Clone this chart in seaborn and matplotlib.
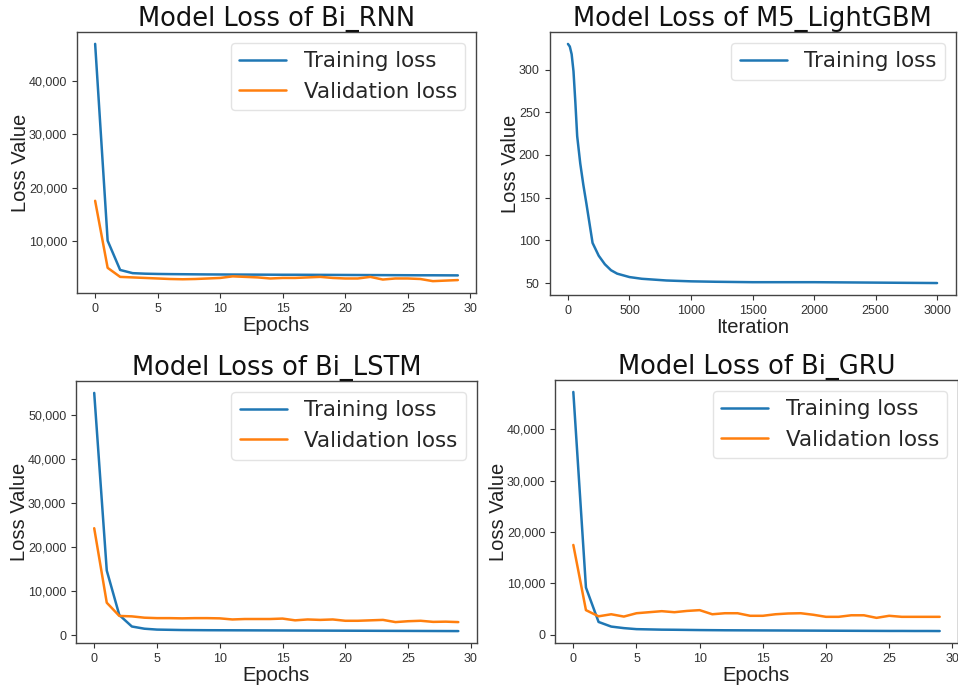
import matplotlib
matplotlib.use("Agg")
import matplotlib.pyplot as plt
from matplotlib.ticker import StrMethodFormatter
import seaborn as sns

# ---------------- data ----------------
epochs = list(range(30))

rnn_train = [47000, 10000, 4500, 3900, 3800, 3750, 3720, 3700, 3680, 3660,
             3650, 3640, 3630, 3620, 3610, 3600, 3600, 3590, 3580, 3570,
             3560, 3550, 3540, 3530, 3520, 3510, 3500, 3500, 3490, 3480]
rnn_val = [17500, 4900, 3200, 3100, 3000, 2900, 2800, 2750, 2800, 2900,
           3000, 3300, 3200, 3100, 2900, 3000, 3000, 3100, 3200, 3000,
           2900, 2900, 3200, 2700, 2900, 2900, 2800, 2400, 2500, 2600]

lgb_iter = [0, 15, 30, 45, 60, 75, 100, 125, 150, 175, 200, 250, 300, 350,
            400, 500, 600, 700, 800, 1000, 1200, 1500, 2000, 2500, 3000]
lgb_train = [330, 327, 318, 298, 262, 222, 190, 165, 143, 120, 97, 82, 72,
             65, 61, 57, 55, 54, 53, 52, 51.5, 51, 51, 50.5, 50]

lstm_train = [55000, 14700, 4600, 2000, 1500, 1300, 1250, 1200, 1180, 1160,
              1150, 1140, 1130, 1120, 1110, 1100, 1090, 1080, 1070, 1060,
              1050, 1040, 1030, 1020, 1010, 1000, 990, 980, 970, 960]
lstm_val = [24300, 7400, 4400, 4300, 4000, 3900, 3900, 3850, 3900, 3900,
            3850, 3600, 3700, 3700, 3700, 3800, 3400, 3600, 3500, 3600,
            3300, 3300, 3400, 3500, 3000, 3200, 3300, 3050, 3100, 3000]

gru_train = [47300, 9200, 2500, 1600, 1300, 1100, 1050, 1000, 980, 950,
             920, 900, 880, 870, 860, 850, 840, 830, 820, 810,
             800, 790, 780, 770, 760, 750, 750, 740, 740, 730]
gru_val = [17500, 4800, 3600, 4000, 3550, 4200, 4400, 4600, 4400, 4650,
           4800, 4000, 4200, 4200, 3700, 3700, 4000, 4150, 4200, 3900,
           3500, 3500, 3800, 3800, 3300, 3700, 3500, 3500, 3500, 3500]

titles = ["Model Loss of Bi_RNN", "Model Loss of M5_LightGBM",
          "Model Loss of Bi_LSTM", "Model Loss of Bi_GRU"]
xlabels = ["Epochs", "Iteration", "Epochs", "Epochs"]
ylabel = "Loss Value"
epoch_ticks = [0, 5, 10, 15, 20, 25, 30]
iter_ticks = [0, 500, 1000, 1500, 2000, 2500, 3000]
lgb_yticks = [50, 100, 150, 200, 250, 300]

# ---------------- style ----------------
sns.set_theme(style="ticks")
plt.rcParams["font.family"] = ["DejaVu Sans"]

BLUE = "#1f77b4"
ORANGE = "#ff7f0e"
SANS = ["Liberation Sans", "DejaVu Sans"]

fig = plt.figure(figsize=(9.58, 6.93), dpi=100)
W, H = 958, 693


def make_ax(l, r, t, b):
    return fig.add_axes([l / W, 1 - b / H, (r - l) / W, (b - t) / H])


ax1 = make_ax(77, 476, 32, 293)
ax2 = make_ax(549.5, 955.5, 32, 295)
ax3 = make_ax(76, 476.5, 381, 643)
ax4 = make_ax(555, 958, 380, 643)

sns.lineplot(x=epochs, y=rnn_train, ax=ax1, color=BLUE, lw=1.8, label="Training loss")
sns.lineplot(x=epochs, y=rnn_val, ax=ax1, color=ORANGE, lw=1.8, label="Validation loss")

sns.lineplot(x=lgb_iter, y=lgb_train, ax=ax2, color=BLUE, lw=1.8, label="Training loss")

sns.lineplot(x=epochs, y=lstm_train, ax=ax3, color=BLUE, lw=1.8, label="Training loss")
sns.lineplot(x=epochs, y=lstm_val, ax=ax3, color=ORANGE, lw=1.8, label="Validation loss")

sns.lineplot(x=epochs, y=gru_train, ax=ax4, color=BLUE, lw=1.8, label="Training loss")
sns.lineplot(x=epochs, y=gru_val, ax=ax4, color=ORANGE, lw=1.8, label="Validation loss")

for ax in [ax1, ax3, ax4]:
    ax.yaxis.set_major_formatter(StrMethodFormatter("{x:,.0f}"))
    ax.set_xticks(epoch_ticks)
    ax.set_xlim(-1.45, 30.45)
ax2.set_xticks(iter_ticks)
ax2.set_xlim(-150, 3150)
ax2.set_yticks(lgb_yticks)

for ax, title, xl in zip([ax1, ax2, ax3, ax4], titles, xlabels):
    ax.set_title(title, fontsize=18.5, color="#111111", pad=1)
    ax.set_xlabel(xl, fontsize=14.5, color="#222222", family=SANS, labelpad=1)
    ax.set_ylabel(ylabel, fontsize=14.5, color="#222222", family=SANS, labelpad=-1)
    for sp in ax.spines.values():
        sp.set_visible(True)
        sp.set_color("#444444")
        sp.set_linewidth(1.0)
    ax.tick_params(axis="both", labelsize=9, colors="#333333", length=3.5, width=0.8)
    for lab in ax.get_xticklabels() + ax.get_yticklabels():
        lab.set_family(SANS)
    leg = ax.legend(loc="upper right", fontsize=15.4, frameon=True, handlelength=2.2,
                    borderaxespad=0.5)
    leg.get_frame().set_edgecolor("#dddddd")
    ax.grid(False)

fig.savefig("out.png", dpi=100, facecolor="white")
